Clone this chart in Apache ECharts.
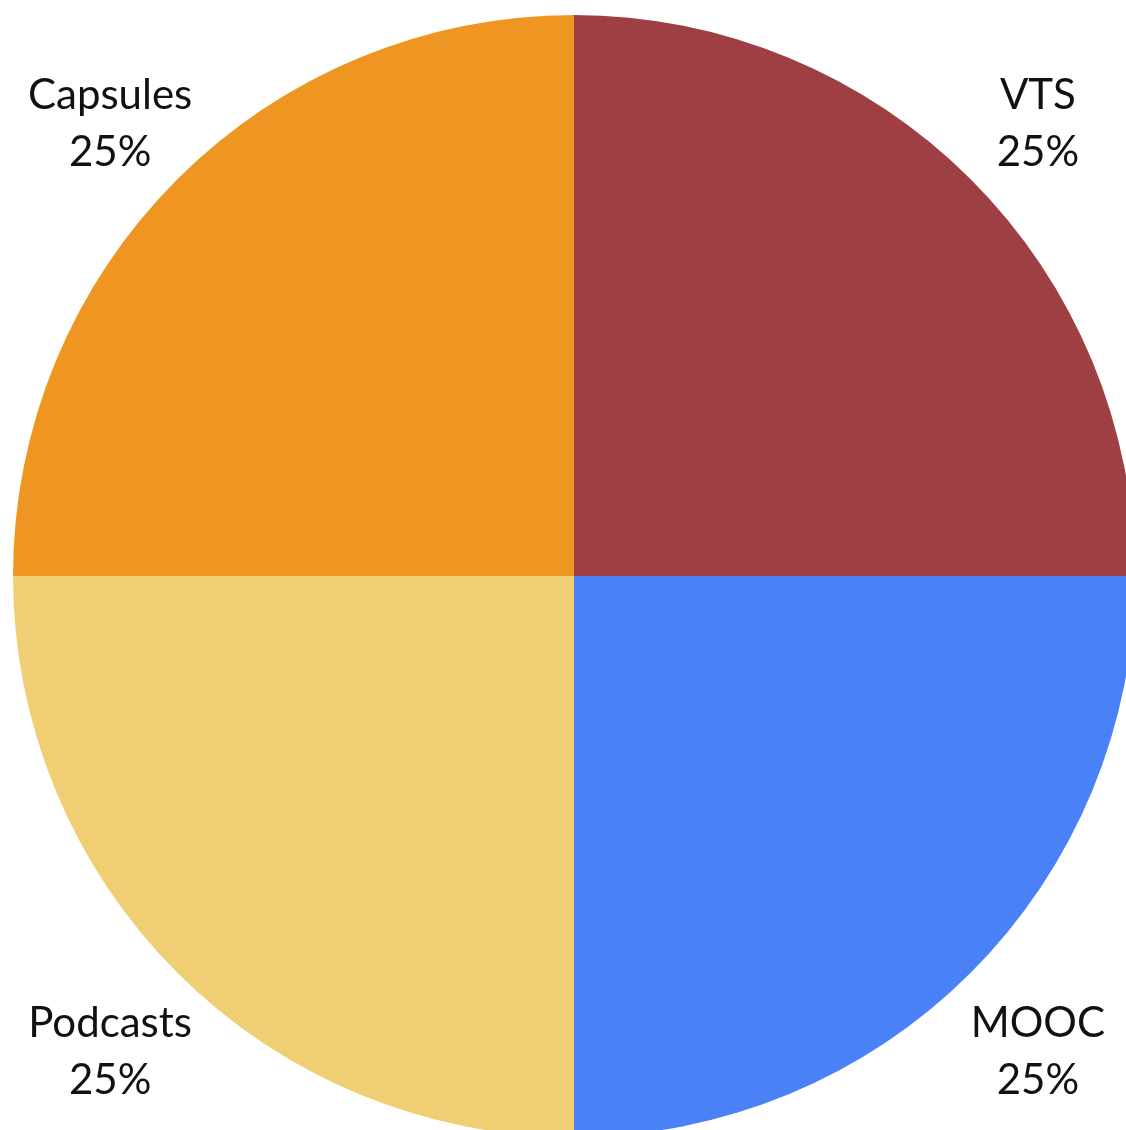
<!DOCTYPE html>
<html>
<head>
<meta charset="utf-8">
<script src="https://cdn.jsdelivr.net/npm/echarts@6/dist/echarts.min.js"></script>
<style>
    html, body {margin: 0; padding: 0; background: #fff;}
    #chart {width: 1126px; height: 1130px;}
</style>
</head>
<body>
<div id="chart"></div>
<script>
var names = ['VTS', 'MOOC', 'Podcasts', 'Capsules'];
var values = [25, 25, 25, 25];
var colors = ['#9E3F43', '#4B81F6', '#F0CE73', '#EE9621'];

var items = [];
for (var i = 0; i < names.length; i++) {
    items.push({name: names[i], value: values[i], itemStyle: {color: colors[i]}});
}

var myChart = echarts.init(document.getElementById('chart'));
myChart.setOption({
    animation: false,
    series: [
        {
            type: 'pie',
            center: [574, 576],
            radius: 561,
            startAngle: 90,
            clockwise: true,
            avoidLabelOverlap: false,
            data: items,
            label: {
                show: true,
                position: 'outside',
                formatter: '{b}\n{d}%',
                fontFamily: 'Lato',
                fontSize: 42,
                lineHeight: 57,
                color: '#111',
                distanceToLabelLine: 0
            },
            labelLine: {show: false, length: 95, length2: 0},
            // labels sit a little lower than the default spot
            labelLayout: function () {
                return {align: 'center', verticalAlign: 'middle', dy: 12};
            }
        }
    ]
});
</script>
</body>
</html>
